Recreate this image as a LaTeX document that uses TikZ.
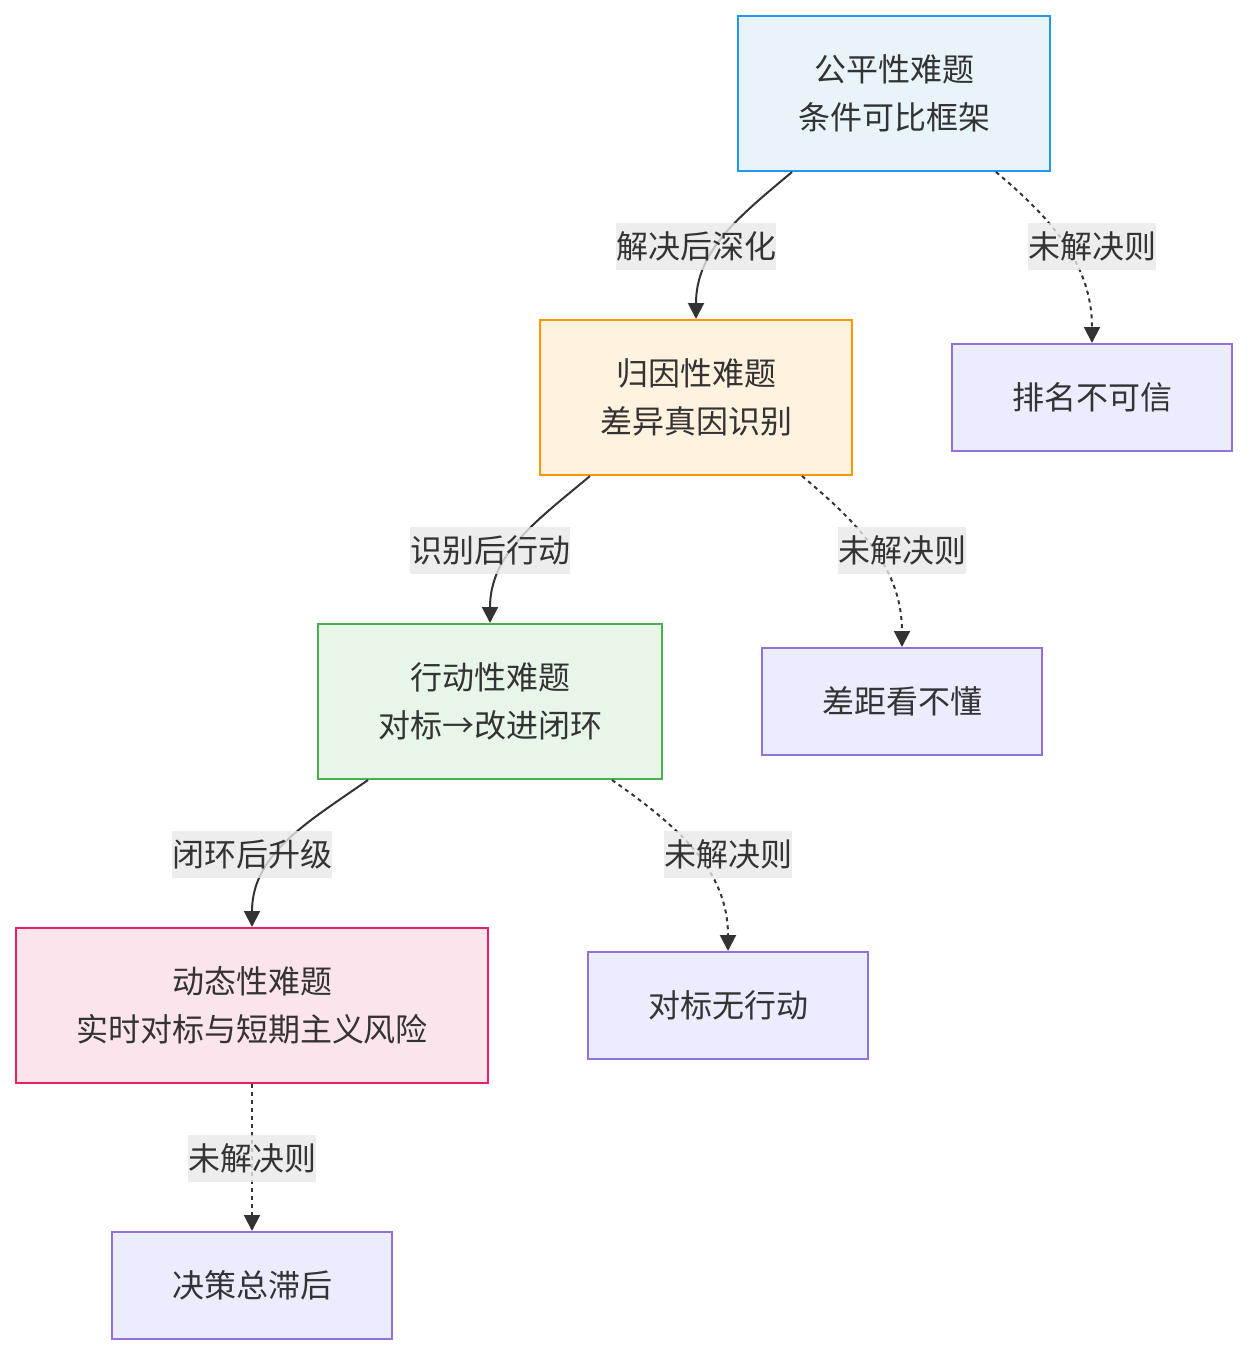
\documentclass[tikz,border=0pt]{standalone}
\usepackage{fontspec}
\setmainfont{Noto Sans CJK SC}
\usetikzlibrary{arrows.meta}

\definecolor{ink}{HTML}{333333}
\definecolor{fairfill}{HTML}{E8F4FA}
\definecolor{fairline}{HTML}{2196F3}
\definecolor{attrfill}{HTML}{FFF3E0}
\definecolor{attrline}{HTML}{FF9800}
\definecolor{actfill}{HTML}{E8F5E9}
\definecolor{actline}{HTML}{4CAF50}
\definecolor{dynfill}{HTML}{FCE4EC}
\definecolor{dynline}{HTML}{E91E63}
\definecolor{failfill}{HTML}{ECECFF}
\definecolor{failline}{HTML}{9370DB}
\definecolor{lblfill}{HTML}{E8E8E8}

\begin{document}
\begin{tikzpicture}[
    x=0.5pt, y=-0.5pt,
    font=\fontsize{16}{24}\selectfont,
    box/.style={draw, line width=1pt, minimum height=77.5pt, align=center,
                inner sep=0pt, text=ink},
    hard/.style={box, fill=#1fill, draw=#1line},
    fail/.style={box, fill=failfill, draw=failline, minimum width=140pt,
                 minimum height=53.5pt},
    lbl/.style={fill=lblfill, fill opacity=0.8, text opacity=1, text=ink,
                inner xsep=0pt, inner ysep=0pt, minimum height=23.5pt},
    flow/.style={draw=ink, line width=1pt, -{Triangle[length=8pt,width=8pt]}},
    miss/.style={flow, dash pattern=on 2pt off 2pt},
  ]
  \useasboundingbox (0,0) rectangle (1248,1356);

  % --- Difficulty chain ---------------------------------------------------
  \node[hard=fair, minimum width=156pt] (fair) at (894, 93.5)  {公平性难题\\条件可比框架};
  \node[hard=attr, minimum width=156pt] (attr) at (696, 397.5) {归因性难题\\差异真因识别};
  \node[hard=act,  minimum width=172pt] (act)  at (490, 701.5) {行动性难题\\对标→改进闭环};
  \node[hard=dyn,  minimum width=236pt] (dyn)  at (252, 1005.5) {动态性难题\\实时对标与短期主义风险};

  % --- Failure outcomes ---------------------------------------------------
  \node[fail] (rank)  at (1092, 397.5)  {排名不可信};
  \node[fail] (gap)   at (902, 701.5)   {差距看不懂};
  \node[fail] (noact) at (728, 1005.5)  {对标无行动};
  \node[fail] (lag)   at (252, 1285.5)  {决策总滞后};

  % --- Arrows -------------------------------------------------------------
  \draw[flow] ([xshift=-51pt]fair.south) to[out=-140, in=90] (attr.north);
  \draw[miss] ([xshift=51pt]fair.south)  to[out=-40,  in=90] (rank.north);
  \draw[flow] ([xshift=-53pt]attr.south) to[out=-140, in=90] (act.north);
  \draw[miss] ([xshift=53pt]attr.south)  to[out=-40,  in=90] (gap.north);
  \draw[flow] ([xshift=-61pt]act.south)  to[out=-145, in=90] (dyn.north);
  \draw[miss] ([xshift=61pt]act.south)   to[out=-35,  in=90] (noact.north);
  \draw[miss] (dyn) -- (lag);

  % --- Edge labels --------------------------------------------------------
  \node[lbl] (deepen)  at (696, 246)  {解决后深化};
  \node[lbl] (failA)   at (1092, 246) {未解决则};
  \node[lbl] (actnow)  at (490, 550)  {识别后行动};
  \node[lbl] (failB)   at (902, 550)  {未解决则};
  \node[lbl] (upgrade) at (252, 854)  {闭环后升级};
  \node[lbl] (failC)   at (728, 854)  {未解决则};
  \node[lbl] (failD)   at (252, 1158) {未解决则};

\end{tikzpicture}
\end{document}
